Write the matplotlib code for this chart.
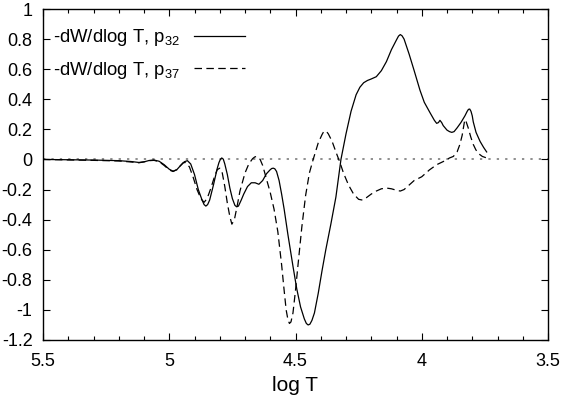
import numpy as np
import matplotlib
matplotlib.use('Agg')
import matplotlib.pyplot as plt
from matplotlib.ticker import MultipleLocator, FormatStrFormatter

plt.rcParams['font.family'] = ['Liberation Sans', 'DejaVu Sans']
plt.rcParams['mathtext.fontset'] = 'custom'
plt.rcParams['mathtext.rm'] = 'Liberation Sans'
plt.rcParams['mathtext.it'] = 'Liberation Sans'

# -dW/dlog T for p32 (solid)
logT_32 = [5.50, 5.40, 5.30, 5.20, 5.15, 5.12, 5.10, 5.08, 5.06, 5.04, 5.02, 5.00,
           4.985, 4.97, 4.955, 4.94, 4.928, 4.915, 4.90, 4.885, 4.87, 4.862, 4.855,
           4.848, 4.84, 4.825, 4.81, 4.803, 4.797, 4.792, 4.786, 4.78, 4.77, 4.76,
           4.75, 4.74, 4.733, 4.726, 4.715, 4.705, 4.69, 4.675, 4.66, 4.645, 4.63,
           4.615, 4.60, 4.594, 4.588, 4.582, 4.575, 4.565, 4.555, 4.545, 4.53,
           4.51, 4.495, 4.48, 4.465, 4.457, 4.45, 4.443, 4.435, 4.425, 4.41, 4.395,
           4.38, 4.36, 4.34, 4.32, 4.30, 4.28, 4.26, 4.245, 4.23, 4.215, 4.20,
           4.18, 4.16, 4.14, 4.12, 4.10, 4.092, 4.085, 4.078, 4.07, 4.05, 4.03,
           4.007, 3.99, 3.967, 3.95, 3.941, 3.934, 3.928, 3.921, 3.915, 3.90,
           3.89, 3.881, 3.872, 3.86, 3.845, 3.829, 3.82, 3.815, 3.81, 3.805, 3.8,
           3.796, 3.785, 3.769, 3.755, 3.743]
dW_32 = [0.000, -0.002, -0.004, -0.008, -0.014, -0.020, -0.016, -0.007, -0.004,
         -0.012, -0.035, -0.065, -0.078, -0.068, -0.040, -0.015, -0.008, -0.030,
         -0.10, -0.20, -0.27, -0.30, -0.31, -0.30, -0.27, -0.17, -0.06, -0.02,
         0.002, 0.010, 0.002, -0.03, -0.10, -0.19, -0.26, -0.305, -0.315, -0.31,
         -0.27, -0.23, -0.18, -0.155, -0.155, -0.165, -0.14, -0.095, -0.068,
         -0.06, -0.058, -0.062, -0.08, -0.14, -0.23, -0.33, -0.50, -0.71, -0.86,
         -0.98, -1.06, -1.09, -1.10, -1.095, -1.07, -1.02, -0.89, -0.74, -0.60,
         -0.43, -0.25, 0.00, 0.17, 0.32, 0.43, 0.48, 0.51, 0.525, 0.535, 0.55,
         0.59, 0.65, 0.73, 0.795, 0.82, 0.83, 0.822, 0.80, 0.70, 0.59, 0.46,
         0.38, 0.31, 0.26, 0.24, 0.245, 0.26, 0.245, 0.225, 0.195, 0.185, 0.18,
         0.185, 0.21, 0.245, 0.29, 0.32, 0.333, 0.335, 0.32, 0.29, 0.25, 0.18,
         0.12, 0.08, 0.05]

# -dW/dlog T for p37 (dashed)
logT_37 = [5.50, 5.40, 5.30, 5.20, 5.15, 5.12, 5.10, 5.08, 5.06, 5.04, 5.02, 5.00,
           4.985, 4.97, 4.955, 4.945, 4.935, 4.92, 4.905, 4.89, 4.875, 4.862, 4.85,
           4.835, 4.82, 4.81, 4.80, 4.79, 4.78, 4.77, 4.76, 4.752, 4.742, 4.73,
           4.72, 4.70, 4.685, 4.67, 4.662, 4.655, 4.648, 4.64, 4.63, 4.615, 4.60,
           4.585, 4.57, 4.555, 4.545, 4.537, 4.53, 4.524, 4.518, 4.51, 4.50,
           4.49, 4.475, 4.46, 4.445, 4.43, 4.41, 4.395, 4.389, 4.383, 4.377, 4.37,
           4.355, 4.34, 4.324, 4.31, 4.29, 4.27, 4.25, 4.235, 4.22, 4.20, 4.18,
           4.16, 4.14, 4.12, 4.10, 4.085, 4.07, 4.05, 4.03, 4.00, 3.97, 3.941,
           3.91, 3.89, 3.875, 3.86, 3.849, 3.84, 3.835, 3.831, 3.827, 3.822,
           3.816, 3.806, 3.796, 3.786, 3.776, 3.76, 3.743]
dW_37 = [0.000, -0.003, -0.006, -0.010, -0.017, -0.022, -0.016, -0.008, -0.006,
         -0.015, -0.040, -0.070, -0.080, -0.068, -0.040, -0.022, -0.020, -0.05,
         -0.12, -0.20, -0.26, -0.285, -0.26, -0.19, -0.11, -0.068, -0.058, -0.09,
         -0.18, -0.29, -0.38, -0.43, -0.40, -0.30, -0.21, -0.09, -0.03, 0.005,
         0.016, 0.02, 0.015, 0.00, -0.04, -0.13, -0.22, -0.33, -0.48, -0.70,
         -0.87, -1.00, -1.065, -1.09, -1.08, -1.02, -0.87, -0.70, -0.45, -0.24,
         -0.09, 0.00, 0.11, 0.165, 0.183, 0.19, 0.185, 0.17, 0.12, 0.05, -0.02,
         -0.09, -0.17, -0.23, -0.265, -0.27, -0.255, -0.23, -0.21, -0.195, -0.19,
         -0.195, -0.205, -0.21, -0.20, -0.17, -0.14, -0.115, -0.07, -0.035,
         -0.01, 0.01, 0.02, 0.05, 0.10, 0.16, 0.21, 0.25, 0.265, 0.24, 0.21,
         0.15, 0.10, 0.065, 0.04, 0.02, 0.01]

fig = plt.figure(figsize=(5.64, 3.99), dpi=100)
ax = fig.add_axes([43 / 564, 1 - 340 / 399, 505 / 564, 331 / 399])

ax.axhline(0, color='#707070', lw=1.1, linestyle=(0, (1.5, 4.0)), zorder=1)
ax.plot(logT_32, dW_32, color='black', lw=0.9, label=r'-dW/dlog T, p$_{32}$')
ax.plot(logT_37, dW_37, color='black', lw=0.9, dashes=(6, 3.5),
        label=r'-dW/dlog T, p$_{37}$')

ax.set_xlim(5.5, 3.5)
ax.set_ylim(-1.2, 1.0)
ax.xaxis.set_major_locator(MultipleLocator(0.5))
ax.xaxis.set_minor_locator(MultipleLocator(0.1))
ax.yaxis.set_major_locator(MultipleLocator(0.2))
ax.xaxis.set_major_formatter(FormatStrFormatter('%g'))
ax.yaxis.set_major_formatter(plt.FuncFormatter(lambda v, p: '%g' % round(v, 1)))
ax.tick_params(which='both', direction='in', top=True, right=True,
               labelsize=13, width=0.8)
ax.tick_params(which='major', length=5)
ax.tick_params(which='minor', length=3)
ax.tick_params(axis='x', which='major', pad=9)
ax.tick_params(axis='y', which='major', pad=7.5)
for s in ax.spines.values():
    s.set_linewidth(1.0)

ax.set_xlabel('log T', fontsize=15, labelpad=5)

ax.legend(loc='upper left', frameon=False, markerfirst=False, fontsize=13.3,
          handlelength=2.75, handletextpad=0.75, labelspacing=0.62,
          bbox_to_anchor=(0.0, 0.975), borderaxespad=0.15)

fig.savefig('out.png', dpi=100)
